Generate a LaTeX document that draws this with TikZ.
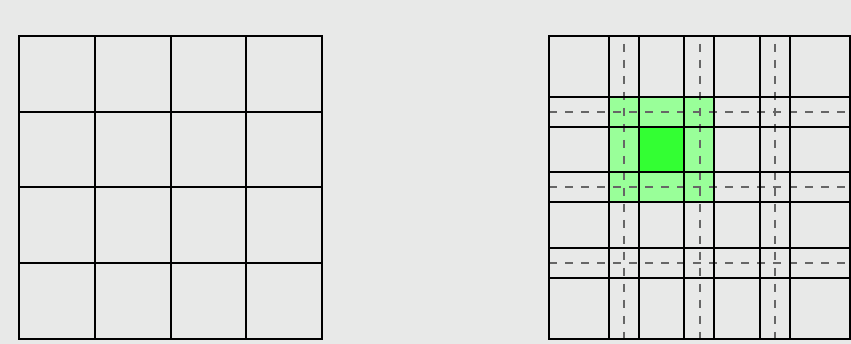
\documentclass[tikz,border=0pt]{standalone}
\begin{document}
\begin{tikzpicture}[x=1pt,y=-1pt,
  gridline/.style={line width=2pt,black,line cap=rect},
  halo/.style={line width=1.6pt,black!60,dash pattern=on 8pt off 8pt},
]
\definecolor{bg}{HTML}{E8E9E8}
\definecolor{lightg}{HTML}{99FF99}
\definecolor{darkg}{HTML}{33FF33}
\fill[bg] (0,0) rectangle (851,344);
\useasboundingbox (0,0) rectangle (851,344);
% left grid
\foreach \x in {19,95,171,246,322} \draw[gridline] (\x,36) -- (\x,339);
\foreach \y in {36,112,187,263,339} \draw[gridline] (19,\y) -- (322,\y);
% right grid greens
\fill[lightg] (609,97) rectangle (714,202);
\fill[darkg] (639,127) rectangle (684,172);
% dashed original boundaries
\foreach \x in {624,700,775} \draw[halo,dash phase=8pt] (\x,36) -- (\x,339);
\foreach \y in {112,187,263} \draw[halo] (549,\y) -- (850,\y);
% right grid lines
\foreach \x in {549,609,639,684,714,760,790,850} \draw[gridline] (\x,36) -- (\x,339);
\foreach \y in {36,97,127,172,202,248,278,339} \draw[gridline] (549,\y) -- (850,\y);
\end{tikzpicture}
\end{document}
